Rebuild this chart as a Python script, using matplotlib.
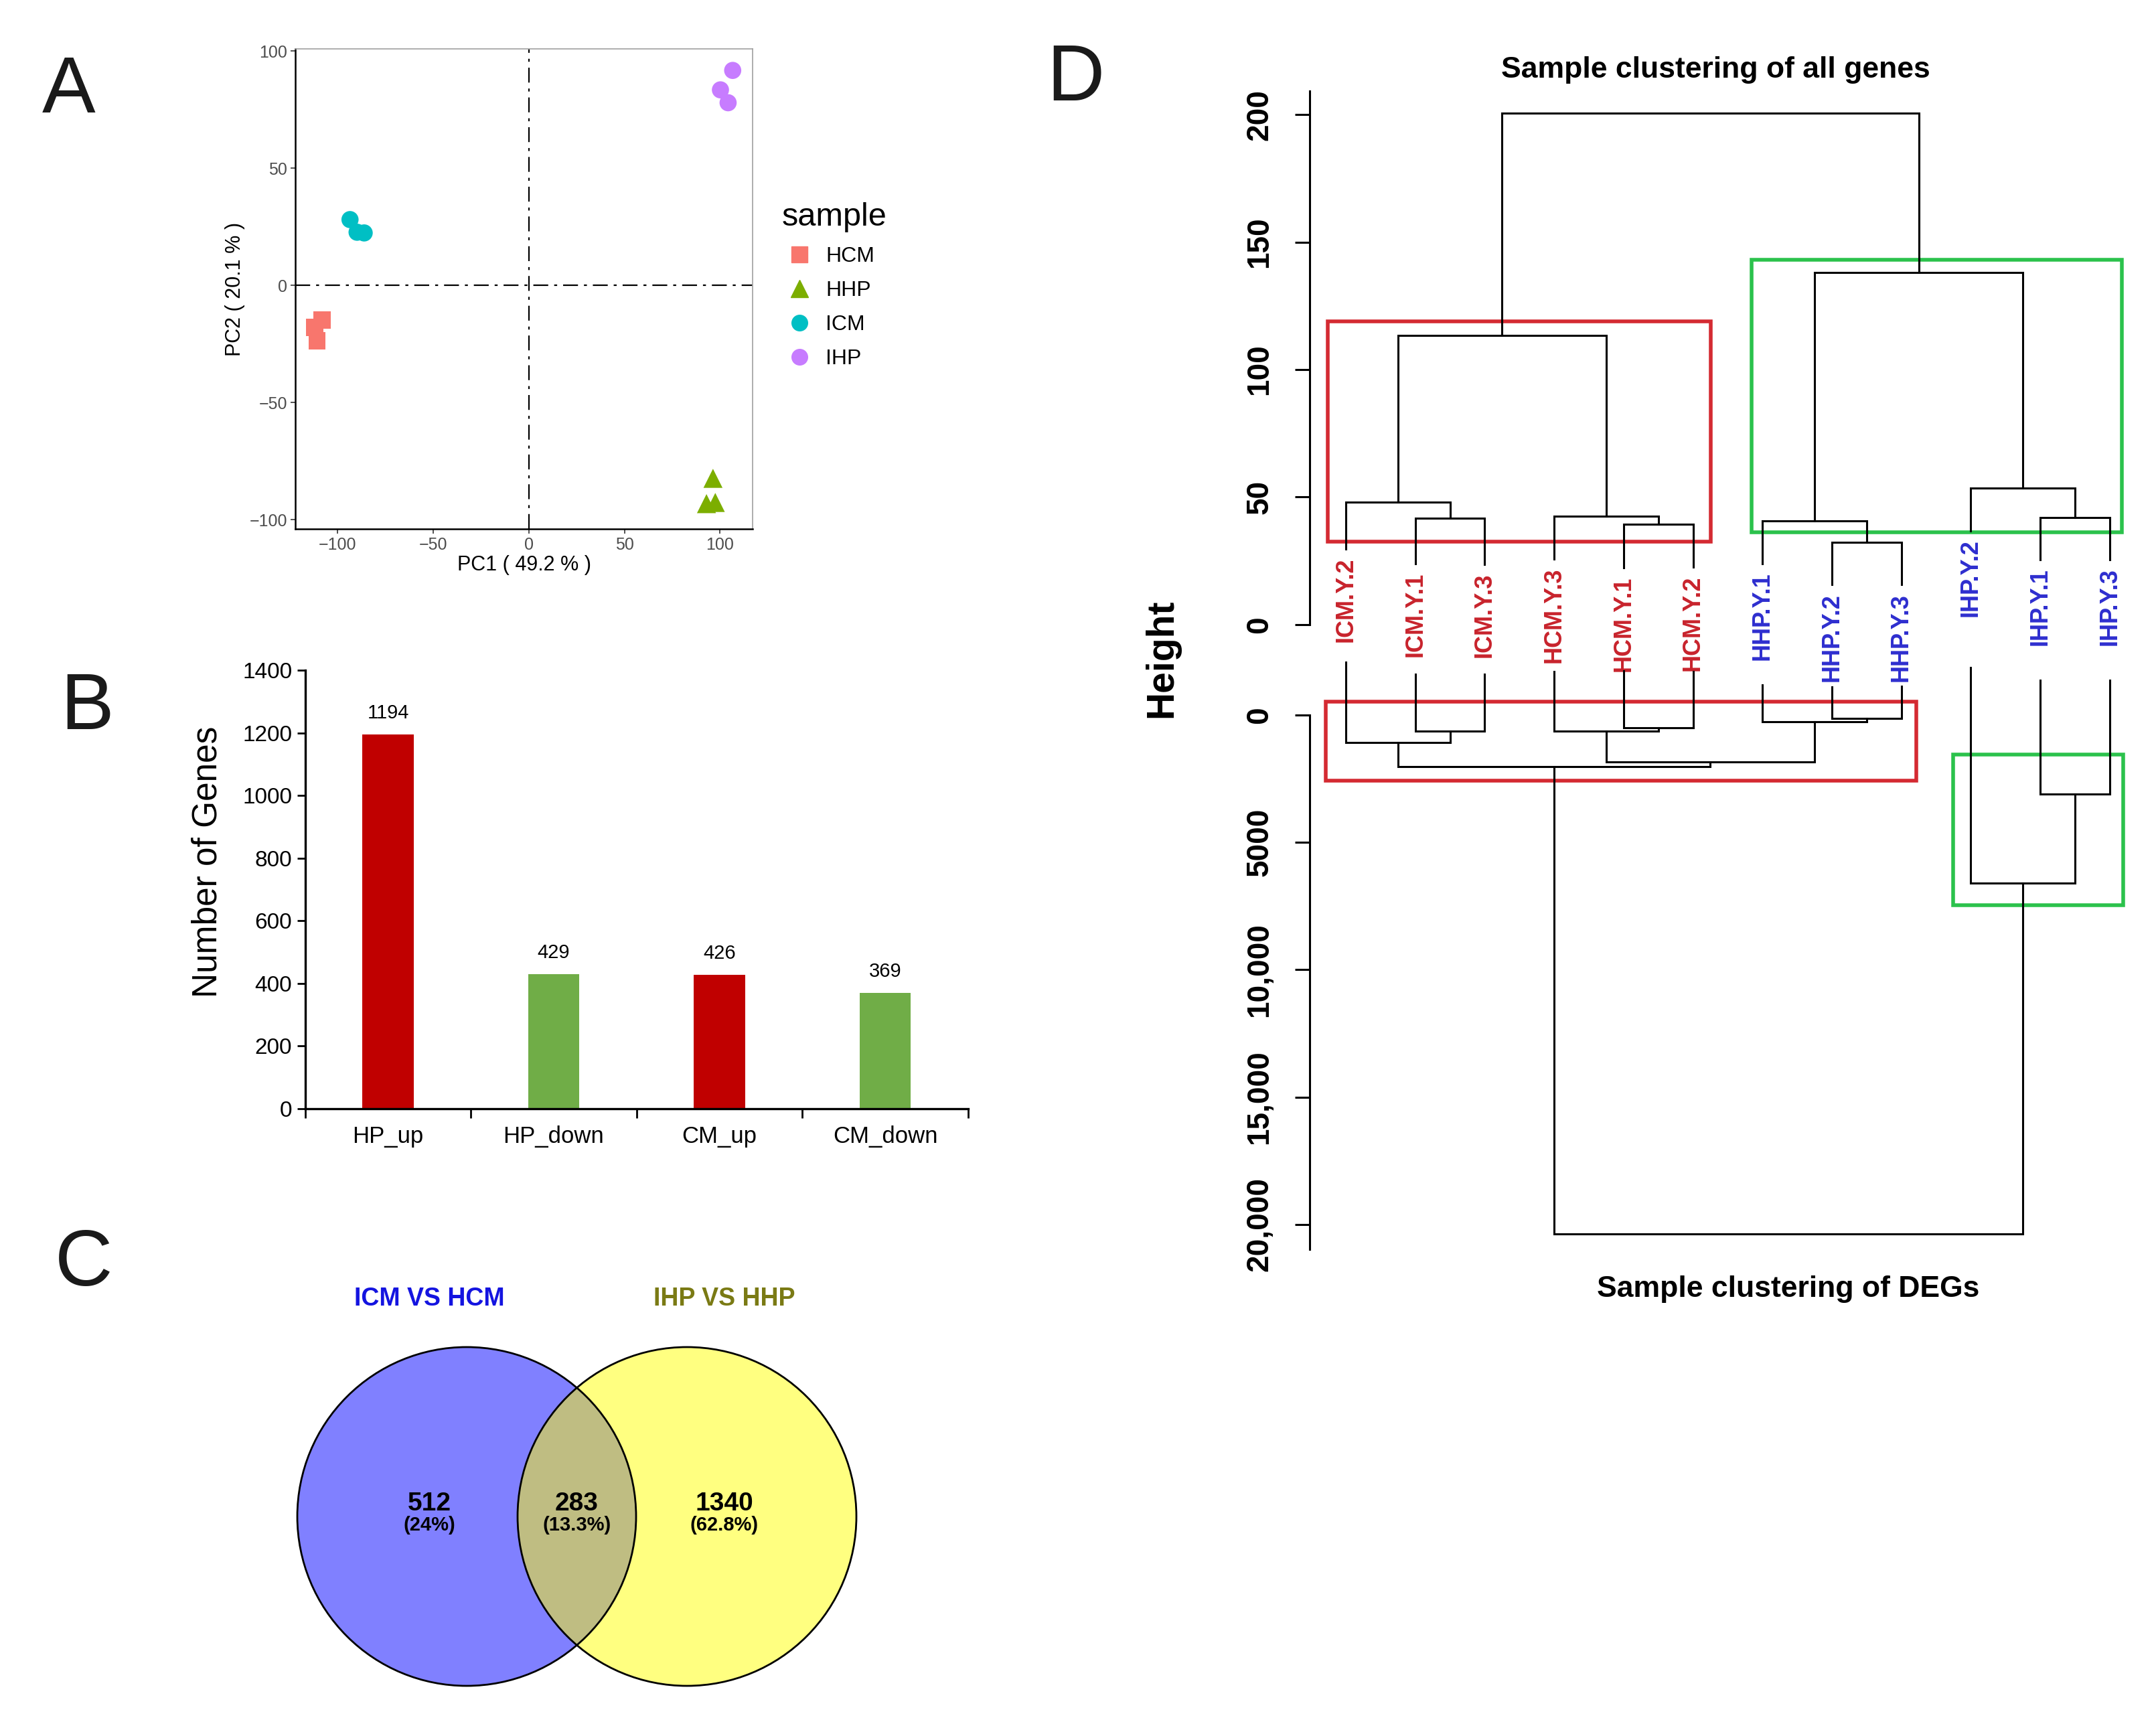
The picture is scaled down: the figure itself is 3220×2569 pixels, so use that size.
import numpy as np
import matplotlib
matplotlib.use('Agg')
import matplotlib.pyplot as plt
from matplotlib import font_manager
from matplotlib.patches import Circle, Rectangle
from matplotlib.lines import Line2D

plt.rcParams['font.family'] = ['Liberation Sans', 'DejaVu Sans']

# ---- A: PCA ----
pca_group = ['HCM'] * 3 + ['HHP'] * 3 + ['ICM'] * 3 + ['IHP'] * 3
pc1 = [-108.1, -111.8, -110.6, 96.3, 92.9, 97.5, -93.4, -89.7, -86.0, 106.6, 100.2, 104.2]
pc2 = [-14.8, -17.9, -23.6, -82.4, -93.2, -92.7, 28.1, 22.7, 22.4, 91.8, 83.5, 78.0]
pca_levels = ['HCM', 'HHP', 'ICM', 'IHP']
pca_colors = ['#F8766D', '#7CAE00', '#00BFC4', '#C77CFF']
pca_markers = ['s', '^', 'o', 'o']

# ---- B: DEG counts ----
deg_cats = ['HP_up', 'HP_down', 'CM_up', 'CM_down']
deg_counts = [1194, 429, 426, 369]
deg_colors = ['#C00000', '#70AD47', '#C00000', '#70AD47']

# ---- C: Venn ----
venn_names = ['ICM VS HCM', 'IHP VS HHP']
venn_counts = [512, 283, 1340]   # only left, both, only right

# ---- D: dendrograms ----
leaf_names = ['ICM.Y.2', 'ICM.Y.1', 'ICM.Y.3', 'HCM.Y.3', 'HCM.Y.1', 'HCM.Y.2',
              'HHP.Y.1', 'HHP.Y.2', 'HHP.Y.3', 'IHP.Y.2', 'IHP.Y.1', 'IHP.Y.3']
leaf_colors = ['#C8232C'] * 6 + ['#2E2ECF'] * 6
# (child a, child b, height); ids >= 12 are earlier merges
top_merges = [(1, 2, 41.7), (0, 12, 48.0), (4, 5, 39.3), (3, 14, 42.5), (13, 15, 113.5),
              (7, 8, 32.2), (6, 17, 40.6), (10, 11, 42.0), (9, 19, 53.6), (18, 20, 138.1),
              (16, 21, 200.5)]
top_leaf_end = [29.6, 23.9, 23.5, 25.7, 22.2, 22.5, 23.9, 15.6, 15.6, 36.7, 25.4, 25.4]
deg_merges = [(1, 2, 640), (0, 12, 1078), (4, 5, 491), (3, 14, 622), (7, 8, 140),
              (6, 16, 272), (15, 17, 1849), (13, 18, 2024), (10, 11, 3101), (9, 20, 6589),
              (19, 21, 20369)]
deg_leaf_end = [-2069, -1594, -1594, -1699, -1725, -1699, -1191, -1104, -1130, -1860, -1367, -1367]
top_ticks = [0, 50, 100, 150, 200]
deg_ticks = [0, 5000, 10000, 15000, 20000]
deg_tick_labels = ['0', '5000', '10,000', '15,000', '20,000']

W, H = 3220, 2569
fig = plt.figure(figsize=(W / 100, H / 100), dpi=100)


def box(l, t, r, b):
    return [l / W, 1 - b / H, (r - l) / W, (b - t) / H]


def fx(x):
    return x / W


def fy(y):
    return 1 - y / H


names = {f.name for f in font_manager.fontManager.ttflist}
if 'Liberation Sans Narrow' in names:
    narrow, title_size = 'Liberation Sans Narrow', 38
else:
    narrow, title_size = 'Liberation Sans', 32

# panel letters
for letter, (x, y) in zip('ABCD', [(63, 168), (90, 1089), (82, 1920), (1563, 150)]):
    fig.text(fx(x), fy(y), letter, fontsize=86, color='#1a1a1a', ha='left', va='baseline')

# ================= A =================
axA = fig.add_axes(box(441, 73, 1124, 790))
for lev, col, mk in zip(pca_levels, pca_colors, pca_markers):
    xs = [a for a, g in zip(pc1, pca_group) if g == lev]
    ys = [b for b, g in zip(pc2, pca_group) if g == lev]
    axA.scatter(xs, ys, s=420 if mk == '^' else 340, marker=mk, color=col, edgecolors='none', zorder=3)
axA.axhline(0, color='k', lw=1.6, dashes=(10, 4, 2, 4), zorder=2)
axA.axvline(0, color='k', lw=1.6, dashes=(10, 4, 2, 4), zorder=2)
axA.set_xlim(-122, 117)
axA.set_ylim(-104, 101)
axA.set_xticks([-100, -50, 0, 50, 100])
axA.set_yticks([-100, -50, 0, 50, 100])
axA.tick_params(labelsize=18, labelcolor='#4D4D4D', color='#333333', length=5, width=1.2)
for s in ['left', 'bottom']:
    axA.spines[s].set_linewidth(1.8)
for s in ['top', 'right']:
    axA.spines[s].set_color('#a0a0a0')
    axA.spines[s].set_linewidth(1.2)
axA.set_xlabel('PC1 ( 49.2 % )', fontsize=22)
axA.set_ylabel('PC2 ( 20.1 % )', fontsize=22)
axA.xaxis.set_label_coords(0.5, -0.055)
axA.yaxis.set_label_coords(-0.11, 0.5)
handles = [Line2D([], [], ls='', marker=m, color=c, markersize=19 if m == '^' else 17)
           for c, m in zip(pca_colors, pca_markers)]
axA.legend(handles, pca_levels, title='sample', loc='upper left',
           bbox_to_anchor=(fx(1168), fy(302)), bbox_transform=fig.transFigure,
           frameon=False, fontsize=23, title_fontsize=35, handlelength=1.6,
           handletextpad=0.45, labelspacing=0.66, borderpad=0, borderaxespad=0,
           alignment='left')

# ================= B =================
axB = fig.add_axes(box(455.7, 1001, 1445.8, 1655.6))
xb = np.arange(len(deg_cats))
axB.bar(xb, deg_counts, width=0.31, color=deg_colors)
for x, v in zip(xb, deg_counts):
    axB.annotate(str(v), (x, v), xytext=(0, 23), textcoords='offset points',
                 ha='center', va='center', fontsize=21)
axB.set_xlim(-0.5, 3.5)
axB.set_ylim(0, 1400)
axB.set_yticks(np.arange(0, 1401, 200))
axB.set_xticks(xb)
axB.set_xticklabels(deg_cats)
axB.set_xticks(np.arange(-0.5, 3.6, 1), minor=True)
axB.tick_params(axis='x', which='major', length=0, pad=18, labelsize=25)
axB.tick_params(axis='x', which='minor', length=10, width=2)
axB.tick_params(axis='y', length=9, width=2, labelsize=24, pad=5)
for s in ['top', 'right']:
    axB.spines[s].set_visible(False)
for s in ['left', 'bottom']:
    axB.spines[s].set_linewidth(2.4)
fig.text(fx(310), fy(1287), 'Number of Genes', rotation=90, fontsize=37,
         ha='center', va='center')

# ================= C =================
axC = fig.add_axes(box(380, 1850, 1380, 2569))
axC.set_xlim(380, 1380)
axC.set_ylim(2569, 1850)
axC.axis('off')
cl = (697, 2265)
cr = (1026, 2265)
rad = 253
left_c = Circle(cl, rad, facecolor='#8080FF', edgecolor='none')
right_c = Circle(cr, rad, facecolor='#FFFF80', edgecolor='none')
axC.add_patch(left_c)
axC.add_patch(right_c)
inter = Circle(cl, rad, facecolor='#BFBD82', edgecolor='none')
axC.add_patch(inter)
inter.set_clip_path(right_c)
for c in (cl, cr):
    axC.add_patch(Circle(c, rad, facecolor='none', edgecolor='black', lw=2))
total = sum(venn_counts)
for x, n in zip([641.5, 861.5, 1081.5], venn_counts):
    pct = f"{100 * n / total:.1f}".rstrip('0').rstrip('.')
    axC.text(x, 2246, str(n), ha='center', va='center', fontsize=28, fontweight='bold')
    axC.text(x, 2278, f"({pct}%)", ha='center', va='center', fontsize=21, fontweight='bold')
for x, name, col in zip([641.5, 1082], venn_names, ['#1414E0', '#7A7A14']):
    axC.text(x, 1940, name, ha='center', va='center', fontsize=27, fontweight='bold', color=col)


# ================= D =================
def draw_tree(ax, merges, leaf_end):
    xpos = list(range(len(leaf_end)))
    ypos = list(leaf_end)
    for a, b, h in merges:
        ax.plot([xpos[a], xpos[a], xpos[b], xpos[b]], [ypos[a], h, h, ypos[b]],
                color='black', lw=2.2, solid_joinstyle='miter', clip_on=False)
        xpos.append((xpos[a] + xpos[b]) / 2)
        ypos.append(h)


def idx(px):
    return (px - 2010) / 103.7


axT = fig.add_axes(box(1956, 135.7, 3202, 932.9))
axT.patch.set_alpha(0)
draw_tree(axT, top_merges, top_leaf_end)
axT.set_xlim(idx(1956), idx(3202))
axT.set_ylim(0, 209.3)
axT.add_patch(Rectangle((-0.26, 32.4), 5.52, 86.4, fill=False, edgecolor='#D42A32', lw=4, clip_on=False))
axT.add_patch(Rectangle((5.84, 36.2), 5.34, 106.9, fill=False, edgecolor='#2BC24C', lw=4, clip_on=False))
for i, name in enumerate(leaf_names):
    axT.annotate(name, (i, top_leaf_end[i]), xytext=(0, -9), textcoords='offset points',
                 rotation=90, ha='center', va='top', fontsize=26, fontweight='bold',
                 color=leaf_colors[i], annotation_clip=False)

axD = fig.add_axes(box(1956, 985, 3202, 1866))
axD.patch.set_alpha(0)
draw_tree(axD, deg_merges, deg_leaf_end)
axD.set_xlim(idx(1956), idx(3202))
axD.set_ylim(20978, -2182)
axD.add_patch(Rectangle((-0.29, -518), 8.51, 3094, fill=False, edgecolor='#D42A32', lw=4, clip_on=False))
axD.add_patch(Rectangle((8.75, 1542), 2.45, 5918, fill=False, edgecolor='#2BC24C', lw=4, clip_on=False))

for ax, ticks, labels, top in [(axT, top_ticks, [str(t) for t in top_ticks], 209.3),
                               (axD, deg_ticks, deg_tick_labels, 20978)]:
    for s in ['top', 'right', 'bottom']:
        ax.spines[s].set_visible(False)
    ax.spines['left'].set_linewidth(2.2)
    ax.spines['left'].set_bounds(0, top)
    ax.set_xticks([])
    ax.set_yticks(ticks)
    ax.set_yticklabels(labels, rotation=90, va='center', fontsize=33, fontweight='bold')
    ax.tick_params(axis='y', length=16, width=2.2, pad=22)

fig.text(fx(1735), fy(983), 'Height', rotation=90, fontsize=41, fontweight='bold',
         ha='center', va='center')
fig.text(fx(2562), fy(116), 'Sample clustering of all genes', fontsize=title_size,
         fontweight='bold', family=narrow, ha='center', va='baseline')
fig.text(fx(2671), fy(1937), 'Sample clustering of DEGs', fontsize=title_size,
         fontweight='bold', family=narrow, ha='center', va='baseline')

fig.savefig('out.png', dpi=100, facecolor='white')
